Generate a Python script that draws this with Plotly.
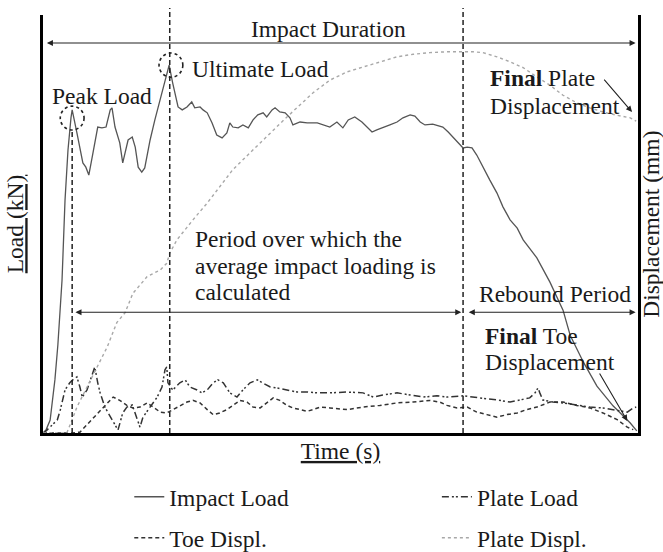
import plotly.graph_objects as go

# ---------------- data (time in % of record, load in kN, displacement in mm) ----------------
impact_t = [0, 0.5, 1.2, 2.0, 2.5, 3.2, 3.7, 4.2, 4.7, 4.9, 5.7, 6.7, 7.2, 7.7, 8.4, 9.2, 9.9, 10.6,
            11.3, 11.6, 12.1, 12.9, 13.4, 14.1, 14.3, 15.0, 15.5, 16.0, 16.6, 17.1, 18.0, 18.8, 19.7,
            20.5, 21.2, 21.8, 22.7, 23.4, 24.2, 25.0, 25.5, 26.4, 26.9, 27.6, 28.4, 29.2, 30.1, 30.9,
            31.4, 31.9, 32.8, 33.6, 34.5, 35.3, 36.1, 37.0, 37.6, 38.5, 39.0, 39.8, 40.7, 41.5, 42.0,
            43.2, 44.4, 46.1, 48.2, 49.4, 50.4, 51.3, 52.4, 53.6, 54.5, 55.3, 56.1, 57.1, 58.3, 59.5,
            60.5, 61.7, 62.5, 63.4, 64.2, 65.5, 67.2, 68.1, 68.9, 69.7, 70.6, 71.3, 72.1, 72.9, 73.9,
            75.1, 76.3, 77.3, 78.5, 79.7, 80.7, 83.0, 85.2, 87.4, 88.6, 90.8, 93.1, 95.8, 98.7, 99.8]
impact_load = [0, 0.7, 3.1, 12.7, 21.1, 36.6, 55.7, 67.7, 75.4, 77.3, 71.8, 64.6, 63.6, 61.7, 67.0,
               73.2, 73.0, 73.2, 77.3, 77.8, 73.2, 69.4, 64.6, 68.4, 70.1, 70.8, 68.4, 63.6, 62.4,
               63.4, 70.1, 74.9, 79.7, 84.4, 88.0, 83.7, 78.0, 77.3, 78.0, 79.2, 77.8, 78.0, 77.3,
               76.6, 74.2, 71.3, 70.6, 71.8, 74.2, 73.2, 73.0, 73.7, 73.0, 74.9, 76.1, 76.6, 75.6,
               77.3, 77.8, 76.8, 76.6, 75.4, 73.7, 74.4, 74.2, 74.2, 73.2, 74.4, 73.0, 74.9, 75.6,
               74.4, 73.2, 72.0, 72.5, 73.0, 73.7, 74.4, 75.4, 76.1, 75.8, 74.4, 73.7, 73.9, 73.2,
               72.0, 70.8, 69.4, 68.2, 68.4, 68.2, 66.5, 63.6, 60.5, 57.4, 54.1, 51.0, 49.0, 46.2,
               41.9, 36.1, 29.4, 23.4, 17.0, 11.2, 6.5, 2.4, 0.5]

plate_load_t = [0, 0.3, 2.4, 2.9, 3.7, 4.5, 5.0, 5.7, 6.2, 6.6, 7.4, 8.2, 8.7, 9.2, 9.6, 10.4, 11.3,
                12.1, 12.6, 13.4, 14.1, 15.0, 15.8, 16.3, 16.8, 18.0, 19.2, 20.0, 20.5, 20.8, 21.0,
                21.8, 23.0, 23.9, 24.7, 25.9, 26.7, 27.6, 28.6, 29.4, 30.3, 31.4, 32.6, 33.6, 34.8,
                36.0, 37.0, 38.2, 39.3, 41.0, 42.7, 44.4, 46.1, 48.2, 51.1, 53.8, 55.5, 57.1, 59.5,
                61.7, 63.9, 66.2, 67.9, 70.6, 72.3, 73.9, 76.3, 78.5, 80.2, 81.8, 82.7, 83.2, 83.5,
                84.0, 85.7, 87.4, 89.7, 91.9, 94.1, 96.5, 98.2, 99.2, 99.7]
plate_load = [0, 0.2, 3.1, 5.5, 10.3, 12.0, 12.7, 13.4, 11.0, 8.6, 10.3, 13.4, 15.8, 12.0, 9.6, 6.2,
              3.8, 1.9, 0.7, 4.8, 6.2, 6.7, 3.1, 1.4, 3.8, 6.2, 8.6, 11.0, 15.1, 15.8, 12.0, 10.3,
              12.0, 12.7, 11.0, 10.3, 9.6, 10.3, 12.0, 12.7, 12.0, 9.6, 8.6, 10.3, 12.0, 12.7, 12.0,
              11.0, 10.8, 10.3, 9.8, 9.8, 9.6, 9.6, 9.8, 9.6, 8.6, 9.1, 9.6, 9.1, 8.6, 8.9, 8.6, 8.9,
              8.6, 8.4, 7.9, 7.4, 7.9, 8.4, 9.6, 10.8, 9.6, 7.9, 7.4, 7.2, 6.7, 6.2, 6.0, 5.5, 5.0,
              6.0, 6.2]

toe_t = [0, 4.9, 6.2, 7.4, 9.1, 10.8, 11.8, 12.9, 14.1, 15.1, 16.3, 17.5, 18.5, 19.7, 20.8, 21.8,
         23.0, 24.2, 25.2, 26.4, 27.6, 28.6, 29.7, 30.9, 31.9, 33.1, 34.3, 35.3, 36.5, 37.6, 38.7,
         39.8, 41.0, 42.0, 43.2, 44.4, 45.4, 46.6, 48.2, 51.1, 53.8, 56.6, 59.5, 62.2, 65.0, 66.7,
         67.9, 69.6, 71.3, 72.9, 74.6, 76.3, 78.0, 79.7, 81.3, 83.0, 85.2, 87.4, 89.7, 91.9, 94.1,
         96.5, 98.2, 99.2]
toe_displ = [0, 0, 0.1, 1.0, 2.4, 3.6, 4.3, 3.9, 3.3, 3.0, 3.1, 3.6, 3.1, 2.5, 2.4, 2.8, 3.3, 3.7,
             3.9, 3.6, 2.8, 2.2, 2.4, 2.8, 3.3, 3.9, 3.7, 3.1, 3.0, 3.6, 4.2, 3.9, 3.3, 3.0, 2.8,
             2.6, 2.8, 3.1, 3.0, 2.8, 3.1, 3.3, 3.6, 3.7, 3.9, 3.7, 3.3, 3.0, 3.1, 2.5, 2.2, 1.9,
             2.2, 2.4, 2.8, 3.1, 3.7, 3.7, 3.3, 3.0, 2.4, 1.6, 0.7, 0.4]

plate_displ_t = [0, 2.9, 4.0, 4.9, 5.7, 7.4, 9.1, 10.8, 12.4, 13.8, 15.1, 17.5, 19.7, 20.8, 21.3,
                 22.5, 24.2, 25.2, 27.6, 31.9, 36.5, 41.0, 45.4, 48.2, 51.1, 53.8, 56.6, 59.5, 62.2,
                 65.0, 67.9, 70.6, 72.3, 73.9, 76.3, 78.5, 80.7, 83.0, 85.2, 87.4, 89.7, 91.9, 94.1,
                 96.5, 98.7, 99.7]
plate_displ = [0, 0, 0, 1.6, 3.1, 5.5, 7.9, 10.3, 13.2, 14.4, 16.7, 18.7, 19.5, 20.3, 21.5, 23.1,
               24.6, 25.5, 27.5, 31.5, 34.7, 37.8, 40.7, 42.2, 43.2, 43.8, 44.4, 45.0, 45.3, 45.5,
               45.6, 45.6, 45.6, 45.5, 45.0, 44.4, 43.7, 42.6, 41.6, 40.4, 39.5, 38.9, 38.4, 38.0,
               37.7, 37.3]

series_names = ["Impact Load", "Plate Load", "Toe Displ.", "Plate Displ."]

# key instants: peak load, ultimate load, end of averaging period
t_peak, load_peak = 4.9, 77.3
t_ult, load_ult = 21.3, 88.0
t_end = 70.6

FONT = "Liberation Serif, Times New Roman, serif"
FS = 23.5
TXT = "#1a1a1a"

fig = go.Figure()
fig.add_trace(go.Scatter(x=impact_t, y=impact_load, mode="lines", name=series_names[0],
                         line=dict(color="#555555", width=1.3), legend="legend"))
fig.add_trace(go.Scatter(x=plate_load_t, y=plate_load, mode="lines", name=series_names[1],
                         line=dict(color="#333333", width=1.5, dash="7px,3px,2px,2px,2px,3px"),
                         legend="legend2"))
fig.add_trace(go.Scatter(x=toe_t, y=toe_displ, mode="lines", name=series_names[2], yaxis="y2",
                         line=dict(color="#333333", width=1.5, dash="4px,3px"), legend="legend3"))
fig.add_trace(go.Scatter(x=plate_displ_t, y=plate_displ, mode="lines", name=series_names[3], yaxis="y2",
                         line=dict(color="#a8a8a8", width=1.4, dash="dot"), legend="legend4"))

# vertical dashed markers
vline = dict(color="#222222", width=1.5, dash="5px,3px")
fig.add_shape(type="line", xref="x", yref="y", x0=t_peak, x1=t_peak, y0=0, y1=load_peak - 4.8, line=vline)
fig.add_shape(type="line", xref="x", yref="paper", x0=t_ult, x1=t_ult, y0=0, y1=1.017, line=vline)
fig.add_shape(type="line", xref="x", yref="paper", x0=t_end, x1=t_end, y0=0, y1=1.017, line=vline)

# dotted circles round the peaks
circ = dict(color="#222222", width=1.6, dash="dot")
fig.add_shape(type="circle", xref="x", yref="y", x0=t_peak - 2.0, x1=t_peak + 2.0,
              y0=load_peak - 4.8, y1=load_peak + 0.9, line=circ)
fig.add_shape(type="circle", xref="x", yref="y", x0=t_ult - 1.8, x1=t_ult + 2.2,
              y0=load_ult - 2.9, y1=load_ult + 2.9, line=circ)

def arrow(x0, y0, x1, y1, both=False):
    fig.add_annotation(x=x1, y=y1, ax=x0, ay=y0, xref="x", yref="y", axref="x", ayref="y",
                       text="", showarrow=True, arrowhead=2, arrowsize=1.1, arrowwidth=1.1,
                       arrowcolor="#222222", arrowside="end+start" if both else "end",
                       standoff=0, startstandoff=0)

arrow(0.4, 93.3, 99.6, 93.3, both=True)                  # impact duration
arrow(t_peak + 0.3, 28.9, t_end - 0.3, 28.9, both=True)  # averaging period
arrow(t_end + 0.7, 28.9, 99.6, 28.9, both=True)          # rebound period
arrow(94.1, 84.9, 99.0, 76.8)                            # final plate displacement
arrow(93.4, 14.6, 98.2, 2.9)                             # final toe displacement

def label(x, y, text, xanchor="center"):
    fig.add_annotation(x=x, y=y, xref="x", yref="y", text=text, showarrow=False,
                       xanchor=xanchor, yanchor="middle",
                       font=dict(family=FONT, size=FS, color=TXT))

label(47.9, 96.6, "Impact Duration")
label(9.9, 80.6, "Peak Load")
label(24.7, 87.0, "Ultimate Load", xanchor="left")
label(74.8, 85.0, "<b>Final</b> Plate", xanchor="left")
label(74.8, 78.3, "Displacement", xanchor="left")
label(25.2, 46.4, "Period over which the", xanchor="left")
label(25.2, 39.9, "average impact loading is", xanchor="left")
label(25.2, 33.7, "calculated", xanchor="left")
label(86.1, 33.3, "Rebound Period")
label(73.9, 23.2, "<b>Final</b> Toe", xanchor="left")
label(73.9, 17.0, "Displacement", xanchor="left")

# right-hand axis title
fig.add_annotation(x=1.0, y=0.498, xref="paper", yref="paper", xshift=13, text="Displacement (mm)",
                   textangle=-90, showarrow=False, xanchor="center", yanchor="middle",
                   font=dict(family=FONT, size=FS, color=TXT))

legend_common = dict(orientation="h", xanchor="left", yanchor="middle", bgcolor="rgba(0,0,0,0)",
                     font=dict(family=FONT, size=FS, color=TXT))

fig.update_layout(
    width=663, height=552,
    margin=dict(l=43, r=25, t=15, b=119, autoexpand=False),
    paper_bgcolor="white", plot_bgcolor="white",
    font=dict(family=FONT, size=FS, color=TXT),
    xaxis=dict(range=[0, 100], showline=True, linewidth=3, linecolor="black", showgrid=False,
               zeroline=False, showticklabels=False, ticks="",
               title=dict(text="<u>Time (s)</u>", standoff=8, font=dict(family=FONT, size=FS, color=TXT))),
    yaxis=dict(range=[0, 100], showline=True, linewidth=3, linecolor="black", showgrid=False,
               zeroline=False, showticklabels=False, ticks="",
               title=dict(text="<u>Load (kN)</u>", standoff=10, font=dict(family=FONT, size=FS, color=TXT))),
    yaxis2=dict(range=[0, 50], overlaying="y", side="right", showline=True, linewidth=3,
                linecolor="black", showgrid=False, zeroline=False, showticklabels=False, ticks=""),
    legend=dict(x=0.145, y=-0.153, **legend_common),
    legend2=dict(x=0.662, y=-0.153, **legend_common),
    legend3=dict(x=0.145, y=-0.251, **legend_common),
    legend4=dict(x=0.662, y=-0.251, **legend_common),
    showlegend=True,
)

# the page's default 8px body margin would push the 663x552 figure off-screen
fig.write_html("out.html", config={"displayModeBar": False},
               post_script="document.body.style.margin='0';document.body.style.overflow='hidden';")
